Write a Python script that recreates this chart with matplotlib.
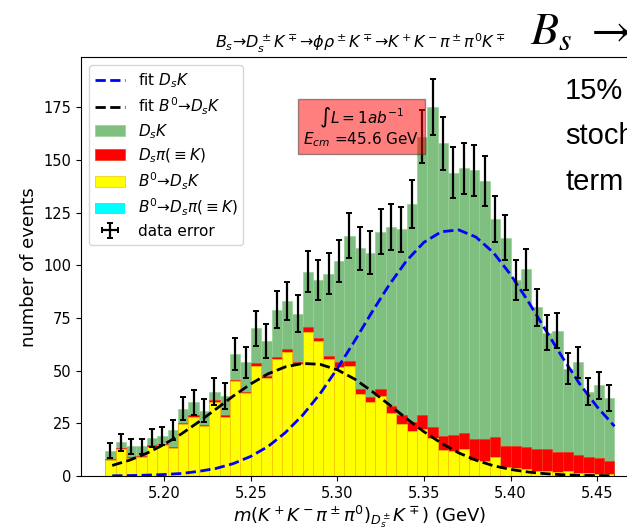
import numpy as np
import matplotlib
matplotlib.use("Agg")
import matplotlib.pyplot as plt

# mass binning (GeV)
bin_lo = 5.166
bin_width = 0.006
n_bins = 49

# observed events per bin
data_counts = [12, 16, 14, 14, 18, 19, 22, 32, 35, 31,
               40, 38, 58, 54, 70, 64, 79, 83, 77, 97,
               93, 96, 102, 114, 108, 106, 116, 118, 117, 129,
               161, 175, 158, 144, 146, 145, 140, 122, 113, 93,
               98, 80, 68, 69, 51, 54, 40, 43, 37]

# background components per bin
b0_dsk = [7.4, 12.7, 8.5, 9.0, 13.9, 14.6, 13.3, 24.7, 28.2, 23.7,
          35.3, 28.2, 45.1, 39.2, 52.4, 46.4, 55.4, 59.0, 53.0, 68.5,
          63.9, 55.4, 51.9, 52.4, 38.8, 35.0, 38.0, 29.7, 24.7, 21.5,
          22.5, 17.8, 12.5, 12.0, 12.7, 7.6, 7.1, 8.9, 4.4, 3.6,
          3.2, 2.5, 2.5, 1.7, 2.5, 1.3, 1.3, 1.0, 0.8]
dspi = [0.5, 0.6, 0.7, 0.7, 0.7, 0.6, 0.6, 0.6, 0.6, 0.7,
        0.8, 0.6, 0.6, 0.8, 1.1, 1.2, 1.2, 1.3, 1.0, 2.1,
        1.8, 1.7, 2.2, 2.2, 2.5, 2.7, 3.3, 3.5, 4.3, 4.3,
        6.5, 5.6, 6.5, 7.5, 7.6, 10.1, 10.6, 9.8, 10.0, 10.8,
        10.7, 10.2, 10.2, 9.5, 8.7, 8.7, 7.9, 7.7, 6.5]
b0_dspi = [0.0] * n_bins

# fitted shapes
fit_x = [5.17, 5.18, 5.19, 5.20, 5.21, 5.22, 5.23, 5.24, 5.25, 5.26,
         5.27, 5.28, 5.29, 5.30, 5.31, 5.32, 5.33, 5.34, 5.35, 5.36,
         5.37, 5.38, 5.39, 5.40, 5.41, 5.42, 5.43, 5.44, 5.45, 5.46]
fit_dsk = [0.1, 0.2, 0.4, 0.7, 1.2, 2.2, 3.6, 5.9, 9.3, 14.0,
           20.6, 28.9, 39.0, 51.0, 64.1, 77.8, 90.8, 102.2, 110.9, 115.9,
           116.8, 113.4, 106.1, 95.6, 83.1, 69.6, 56.2, 43.6, 32.8, 23.6]
fit_b0 = [5.0, 7.5, 10.8, 15.0, 20.0, 25.7, 31.8, 38.0, 43.7, 48.5,
          51.8, 53.4, 53.0, 50.4, 46.0, 40.2, 33.8, 27.2, 21.0, 15.6,
          11.0, 7.5, 4.9, 3.1, 1.9, 1.1, 0.6, 0.3, 0.2, 0.1]

edges = bin_lo + bin_width * np.arange(n_bins + 1)
centers = edges[:-1] + bin_width / 2
data = np.array(data_counts, dtype=float)
yel = np.array(b0_dsk)
red = np.array(dspi)
cya = np.array(b0_dspi)
dsk = data - yel - red - cya

fig = plt.figure(figsize=(6.27, 5.30), dpi=100)
ax = fig.add_axes([0.1292, 0.1019, 0.8895, 0.790])

# stack drawn back to front: each layer is the cumulative sum
h_dsk = ax.bar(centers, cya + yel + red + dsk, width=bin_width, color='#7fbf7f',
               edgecolor='#9ad09a', linewidth=0.5)
h_dspi = ax.bar(centers, cya + yel + red, width=bin_width, color='red',
                edgecolor='#f03a1a', linewidth=0.5)
h_b0dsk = ax.bar(centers, cya + yel, width=bin_width, color='yellow',
                 edgecolor='#f2c600', linewidth=0.5)
h_b0dspi = ax.bar(centers, cya, width=bin_width, color='cyan', linewidth=0)

l_dsk, = ax.plot(fit_x, fit_dsk, '--', color='blue', lw=2)
l_b0, = ax.plot(fit_x, fit_b0, '--', color='black', lw=2)

h_err = ax.errorbar(centers, data, yerr=np.sqrt(data), xerr=0, fmt='none',
                    ecolor='black', elinewidth=1.6, capsize=2.5, capthick=1.4)

ax.legend([l_dsk, l_b0, h_dsk, h_dspi, h_b0dsk, h_b0dspi, h_err],
          ['fit $D_sK$', 'fit $B^0$→$D_sK$', '$D_sK$', r'$D_s\pi(\equiv K)$',
           '$B^0$→$D_sK$', r'$B^0$→$D_s\pi(\equiv K)$', 'data error'],
          loc='upper left', fontsize=11, labelspacing=0.36)

ax.text(5.3138, 165.4, '$\\int L = 1ab^{-1}$\n$E_{cm}$ =45.6 GeV',
        ha='center', va='center', multialignment='center', fontsize=11,
        linespacing=1.0,
        bbox=dict(facecolor='red', alpha=0.5, edgecolor='#333333'))

ax.set_xlim(5.152, 5.474)
ax.set_ylim(0, 198.7)
ax.set_xticks([5.20, 5.25, 5.30, 5.35, 5.40, 5.45])
ax.tick_params(labelsize=10.5)
ax.set_xlabel(r'$m(K^+K^-\pi^\pm\pi^0)_{D_s^\pm}K^\mp)$ (GeV)', fontsize=13,
              labelpad=2)
ax.set_ylabel('number of events', fontsize=13)
ax.set_title(r'$B_s$→$D_s^\pm K^\mp$→$\phi\rho^\pm K^\mp$→$K^+K^-\pi^\pm\pi^0K^\mp$',
             fontsize=11.5)

# slide annotations
fig.text(530 / 627, 1 - 44 / 530, r'$B_s\ \rightarrow$', fontsize=33,
         math_fontfamily='stix', va='baseline', ha='left')
fig.text(565 / 627, 1 - 190 / 530, '15%\nstoch\nterm', fontsize=21,
         family='Liberation Sans', va='baseline', ha='left', linespacing=1.8)

fig.savefig('out.png', dpi=100)
